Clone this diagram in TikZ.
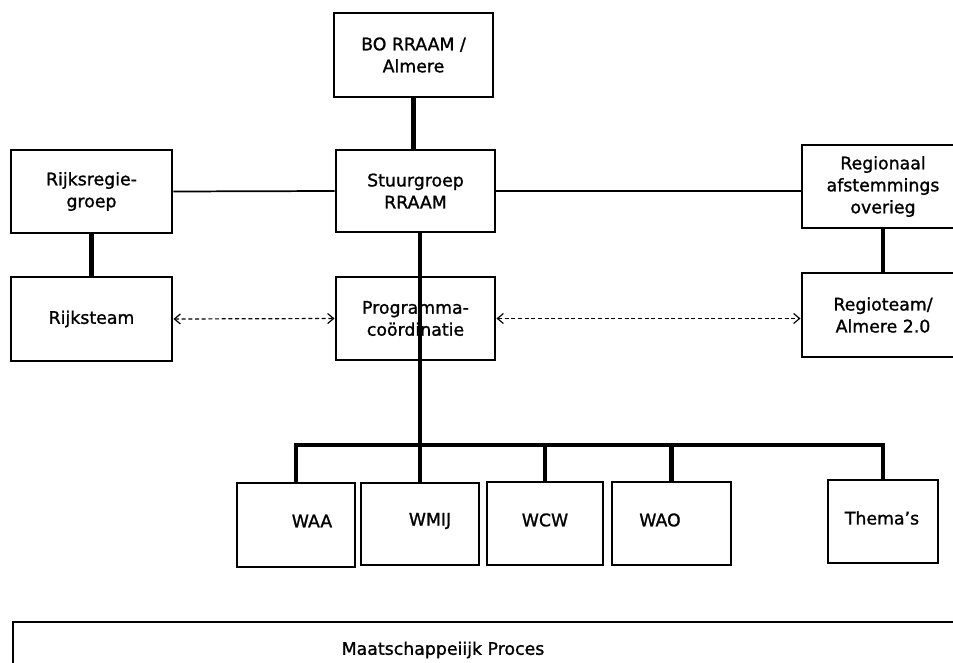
\documentclass[tikz,border=0pt]{standalone}
\usepackage{fontspec}
\setmainfont{DejaVu Sans}[BoldFont=DejaVu Sans, BoldFeatures={FakeBold=1.2}]
\usetikzlibrary{arrows.meta}
\begin{document}
\begin{tikzpicture}[x=0.75pt,y=-0.75pt,
  box/.style={draw=black, line width=2.2pt, inner sep=0pt, align=center,
    font=\fontsize{13}{16.5}\selectfont\bfseries},
  boxtext/.style={font=\fontsize{13}{16.5}\selectfont\bfseries, inner sep=0pt},
  thickline/.style={line width=3.4pt},
  thinline/.style={line width=1.3pt},
  dasharrow/.style={line width=0.9pt, dash pattern=on 3pt off 2pt,
    {Straight Barb[length=4.5pt,width=7.5pt]}-{Straight Barb[length=4.5pt,width=7.5pt]}}]
\useasboundingbox (0,0) rectangle (953,663);
\clip (0,0) rectangle (953,663);
\fill[white] (0,0) rectangle (953,663);

% top level
\node[box, minimum width=159*0.75pt, minimum height=84*0.75pt] (bo) at (413.5,55) {BO RRAAM /\\Almere};
\node[box, minimum width=159*0.75pt, minimum height=82*0.75pt] (stuur) at (415.5,191) {Stuurgroep\\RRAAM};
\node[box, minimum width=161*0.75pt, minimum height=83*0.75pt] (rregie) at (91.5,191.5) {Rijksregie-\\groep};
\node[box, minimum width=161*0.75pt, minimum height=84*0.75pt] (rteam) at (91.5,319) {Rijksteam};
\node[box, minimum width=159*0.75pt, minimum height=83*0.75pt] (prog) at (415.5,318.5) {Programma-\\coördinatie};
\node[box, minimum width=162*0.75pt, minimum height=83*0.75pt] (regio) at (883,186.5) {Regionaal\\afstemmings\\overieg};
\node[box, minimum width=162*0.75pt, minimum height=84*0.75pt] (regioteam) at (883,315) {Regioteam/\\Almere 2.0};

% working groups
\node[box, minimum width=118*0.75pt, minimum height=84*0.75pt] (waa) at (296,525) {};
\node[boxtext] (waat) at (312,521) {WAA};
\node[box, minimum width=118*0.75pt, minimum height=82*0.75pt] (wmij) at (420,524) {};
\node[boxtext] (wmijt) at (430,521) {WMIJ};
\node[box, minimum width=116*0.75pt, minimum height=83*0.75pt] (wcw) at (545,523.5) {};
\node[boxtext] (wcwt) at (545,520) {WCW};
\node[box, minimum width=119*0.75pt, minimum height=83*0.75pt] (wao) at (671.5,523.5) {};
\node[boxtext] (waot) at (660,520) {WAO};
\node[box, minimum width=110*0.75pt, minimum height=83*0.75pt] (thema) at (883,521.5) {};
\node[boxtext] (thematt) at (882,518) {Thema's};

% bottom process box (cut off by the page)
\draw[line width=2.2pt] (975,622) -- (13,622) -- (13,690);
\node[boxtext] (maat) at (443,650) {Maatschappeiijk Proces};

% connectors
\draw[thickline] (bo.south) -- (bo.south |- stuur.north);
\draw[thickline] (rregie.south) -- (rteam.north);
\draw[thickline] (regio.south) -- (regioteam.north);
\draw[thinline] (rregie.east) -- (stuur.west);
\draw[thinline] (stuur.east) -- (stuur.east -| regio.west);
\draw[dasharrow] (rteam.east) -- (prog.west);
\draw[dasharrow] (prog.east) -- (prog.east -| regioteam.west);

\coordinate (bus) at (420,445);
\draw[thickline] (stuur.south -| wmij.north) -- (wmij.north);
\draw[thickline, line join=miter] (waa.north) |- (bus) -| (thema.north);
\draw[thickline] (wcw.north) -- (wcw.north |- bus);
\draw[thickline] (wao.north) -- (wao.north |- bus);
\end{tikzpicture}
\end{document}
